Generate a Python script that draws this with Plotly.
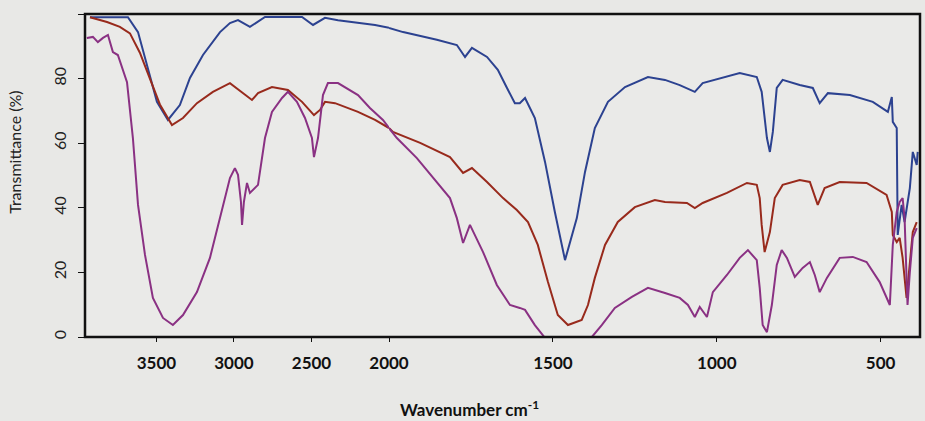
import plotly.graph_objects as go

# ---- data (wavenumber cm-1, transmittance %) ----
blue_wn = [3929, 3684, 3619, 3561, 3497, 3426, 3349, 3284, 3200, 3090, 3026, 2974, 2897, 2800, 2561,
           2490, 2413, 2329, 2090, 2000, 1957, 1854, 1793, 1768, 1747, 1701, 1668, 1640, 1616, 1601,
           1585, 1555, 1524, 1494, 1463, 1427, 1402, 1372, 1332, 1280, 1210, 1158, 1113, 1067, 1043,
           930, 878, 863, 847, 838, 829, 817, 799, 747, 716, 707, 686, 661, 594, 524, 478, 466, 463,
           451, 448, 436, 427, 411, 402, 390, 387]
blue_t = [99, 99, 94.4, 84.2, 72.8, 67.2, 71.8, 80.2, 87.3, 94.4, 97.2, 98.1, 96.0, 99.1, 99.1,
          96.6, 98.8, 98.1, 96.6, 95.7, 94.4, 92.0, 90.4, 86.7, 89.5, 86.7, 82.7, 77.1, 72.4, 72.4,
          74.0, 67.8, 54.2, 38.7, 23.8, 36.8, 51.1, 64.7, 72.8, 77.4, 80.5, 79.6, 78.0, 75.9, 78.6,
          81.7, 80.5, 75.9, 61.6, 57.3, 63.5, 77.1, 79.6, 78.0, 77.4, 77.1, 72.4, 75.5, 74.9, 72.8, 69.7, 74.3, 66.6,
          64.7, 31.6, 40.9, 35.6, 46.1, 57.3, 53.3, 57.3]

red_wn = [3929, 3819, 3736, 3671, 3607, 3542, 3478, 3400, 3329, 3239, 3136, 3026, 2884, 2845, 2755,
          2652, 2561, 2484, 2445, 2413, 2348, 2200, 2090, 2000, 1988, 1905, 1814, 1774, 1747, 1701,
          1652, 1610, 1576, 1546, 1515, 1485, 1454, 1412, 1393, 1372, 1341, 1302, 1250, 1189, 1158,
          1091, 1067, 1043, 969, 908, 878, 869, 863, 854, 838, 823, 799, 747, 716, 692, 671, 625, 543,
          482, 466, 463, 451, 442, 433, 421, 411, 402, 390]
red_t = [99, 97.5, 96, 94, 88, 80, 72, 65.6, 67.8, 72.4, 75.9, 78.6, 73.4, 75.5, 77.4,
         76.5, 72.8, 68.7, 70.3, 72.8, 72.4, 69.7, 67.2, 64.7, 63.5, 60.1, 55.7, 50.8, 52.3, 48.0,
         43.0, 39.3, 35.6, 28.5, 17.0, 6.8, 3.7, 5.3, 9.9, 18.3, 28.5, 35.6, 40.2, 42.4, 41.8,
         41.5, 39.9, 41.5, 44.6, 47.7, 47.1, 43.0, 34.7, 26.3, 32.5, 43.0, 47.1, 48.6, 48.0, 40.9, 46.1, 48.0, 47.7,
         44.0, 38.7, 31.6, 29.4, 30.7, 24.5, 12.1, 22.3, 32.5, 35.6]

mag_wn = [3949, 3910, 3878, 3845, 3813, 3781, 3749, 3690, 3652, 3619, 3574, 3523, 3458, 3394, 3329,
          3239, 3155, 3090, 3026, 2994, 2974, 2955, 2948, 2936, 2916, 2897, 2845, 2800, 2755, 2690,
          2652, 2594, 2542, 2497, 2484, 2458, 2426, 2394, 2329, 2200, 2123, 2039, 2000, 1976, 1915,
          1854, 1814, 1793, 1774, 1753, 1713, 1671, 1631, 1601, 1585, 1555, 1524, 1470, 1381, 1351,
          1311, 1259, 1210, 1158, 1113, 1088, 1067, 1052, 1030, 1012, 969, 930, 905, 878, 869, 860,
          847, 832, 817, 802, 786, 762, 738, 716, 701, 686, 664, 625, 585, 543, 503, 472, 463, 451,
          442, 433, 427, 421, 418, 411, 402, 390]
mag_t = [92.6, 92.9, 91.3, 92.6, 93.5, 88.2, 87.3, 78.9, 61.6, 40.9, 25.4, 12.1, 5.9, 3.7, 6.8,
         13.9, 24.5, 36.8, 49.2, 52.3, 50.2, 41.8, 34.7, 41.8, 47.7, 44.6, 47.1, 61.6, 69.7, 74.0,
         75.9, 72.8, 67.8, 61.6, 55.7, 61.6, 74.9, 78.6, 78.6, 74.9, 70.9, 67.2, 64.7, 61.6, 55.4,
         47.7, 43.0, 36.8, 29.1, 34.7, 26.3, 16.1, 9.9, 9.0, 8.4, 3.7, -0.3, -3.0, 0.0, 3.7,
         9.0, 12.4, 15.2, 13.6, 12.1, 9.9, 6.2, 9.3, 6.2, 13.9, 19.2, 24.5, 26.9, 23.8, 15.2, 3.7,
         1.5, 9.9, 22.3, 26.9, 24.5, 18.6, 21.4, 23.2, 19.2, 13.9, 18.3, 24.5, 24.8, 23.2, 17.0, 9.9, 28.5, 38.7,
         41.8, 43.0, 36.8, 18.3, 9.9, 20.1, 30.7, 33.7]

x_ticks_high = [3500, 3000, 2500]
x_ticks_low = [2000, 1500, 1000, 500]
y_ticks = [0, 20, 40, 60, 80, 100]
BREAK = 2000

series = [
    ("blue", blue_wn, blue_t, "#2c4290"),
    ("red", red_wn, red_t, "#982a1c"),
    ("magenta", mag_wn, mag_t, "#8a3183"),
]

fig = go.Figure()
for name, wn, t, col in series:
    hi = [(w, v) for w, v in zip(wn, t) if w >= BREAK]
    lo = [(w, v) for w, v in zip(wn, t) if w <= BREAK]
    fig.add_trace(go.Scatter(x=[p[0] for p in hi], y=[p[1] for p in hi], mode="lines",
                             line=dict(color=col, width=2), xaxis="x", yaxis="y",
                             showlegend=False, name=name))
    fig.add_trace(go.Scatter(x=[p[0] for p in lo], y=[p[1] for p in lo], mode="lines",
                             line=dict(color=col, width=2), xaxis="x2", yaxis="y",
                             showlegend=False, name=name))

BG = "#e8e8e6"
tickfont = dict(family="Lato", size=17, color="#111111", weight="bold")
split = (389 - 85) / 835

fig.update_layout(
    width=925, height=421,
    margin=dict(l=85, r=5, t=14, b=84),
    paper_bgcolor=BG, plot_bgcolor="#eaeae8",
    xaxis=dict(domain=[0, split], range=[3961, BREAK], tickvals=x_ticks_high,
               ticks="outside", ticklen=4, tickcolor="#111", tickfont=tickfont,
               showgrid=False, zeroline=False, showline=False, anchor="y",
               ticklabelstandoff=7),
    xaxis2=dict(domain=[split, 1], range=[BREAK, 380], tickvals=x_ticks_low,
                ticks="outside", ticklen=4, tickcolor="#111", tickfont=tickfont,
                showgrid=False, zeroline=False, showline=False, anchor="y",
                ticklabelstandoff=7),
    yaxis=dict(range=[0, 100], tickvals=y_ticks, tickangle=-90, ticks="outside", ticklen=6,
               tickcolor="#111", tickfont=dict(family="Lato", size=16, color="#222"),
               showgrid=False, zeroline=False, showline=False, ticklabelstandoff=6),
    shapes=[dict(type="rect", xref="paper", yref="paper", x0=0, x1=1, y0=0, y1=1,
                 line=dict(color="#111111", width=2.5), layer="above")],
    annotations=[
        dict(text="Transmittance (%)", xref="paper", yref="paper", x=-0.084, y=0.573,
             textangle=-90, showarrow=False, xanchor="center", yanchor="middle",
             font=dict(family="Lato", size=16, color="#222")),
        dict(text="Wavenumber cm<sup>-1</sup>", xref="paper", yref="paper", x=0.461, y=-0.22,
             showarrow=False, xanchor="center", yanchor="middle",
             font=dict(family="Lato", size=17, color="#111", weight="bold")),
    ],
)

fig.write_html("out.html", config={"displayModeBar": False},
               post_script="document.body.style.margin='0';document.body.style.background='%s';" % BG)
